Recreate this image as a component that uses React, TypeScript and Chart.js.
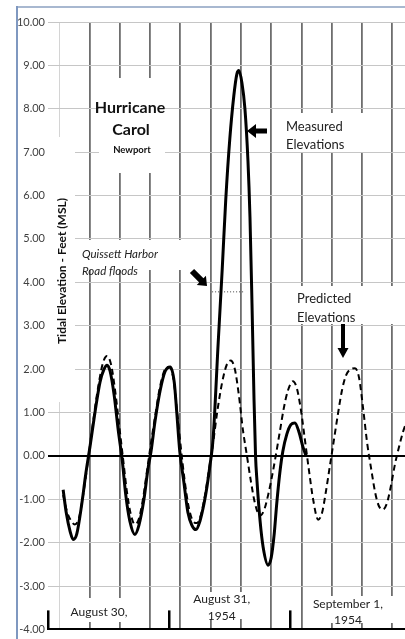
import React, { useEffect, useRef } from "react";
import { Chart, registerables } from "chart.js";

Chart.register(...registerables);

// Time in hours from the start of August 30 (local), elevation in feet (MSL)
const measuredHours = [
  3.0, 3.6, 4.4, 5.0, 5.7, 6.7, 7.5, 8.3, 9.3, 10.3, 11.1, 11.7, 12.3, 13.1, 13.9, 14.7, 15.4, 16.2, 17.2,
  18.0, 19.0, 19.8, 20.4, 21.2, 22.2, 23.2, 24.2, 25.0, 25.5, 26.1, 26.9, 27.7, 28.5, 29.3, 30.1, 30.9,
  31.5, 32.1, 32.7, 33.7, 34.5, 35.2, 36.0, 36.8, 37.4, 37.8, 38.4, 39.0, 39.6, 40.0, 40.4, 40.8, 41.1,
  41.4, 42.0, 42.6, 43.6, 44.2, 44.8, 45.3, 45.9, 46.5, 47.3, 48.1, 48.9, 49.7, 50.5, 51.1,
];
const measuredFeet = [
  -0.78, -1.3, -1.75, -1.93, -1.8, -1.1, -0.4, 0.2, 1.0, 1.7, 2.0, 2.09, 1.95, 1.4, 0.6, -0.1, -0.9, -1.5,
  -1.81, -1.6, -1.0, -0.3, 0.1, 0.8, 1.5, 1.95, 2.05, 1.7, 1.0, 0.1, -0.6, -1.3, -1.6, -1.7, -1.5, -1.1,
  -0.7, -0.2, 0.4, 2.6, 4.3, 5.9, 7.3, 8.3, 8.8, 8.88, 8.6, 8.0, 6.8, 5.5, 3.5, 1.3, 0.0,
  -0.6, -1.5, -2.1, -2.52, -2.35, -1.8, -1.1, -0.4, 0.1, 0.5, 0.72, 0.76, 0.55, 0.2, 0.0,
];

const predictedHours = [
  3.0, 3.8, 4.6, 5.3, 6.1, 6.9, 7.7, 8.5, 9.3, 10.1, 10.9, 11.7, 12.5, 13.3, 14.1, 14.9, 15.6, 16.4, 17.2,
  18.0, 18.8, 19.6, 20.4, 21.2, 22.2, 23.2, 24.0, 24.8, 25.5, 26.3, 27.1, 27.9, 28.7, 29.5, 30.3, 31.1,
  31.9, 32.7, 33.5, 34.5, 35.4, 36.2, 37.0, 37.8, 38.6, 39.4, 40.2, 41.0, 42.0, 42.8, 43.6, 44.4, 45.1,
  45.9, 46.7, 47.5, 48.5, 49.3, 50.1, 50.9, 51.7, 52.5, 53.5, 54.3, 55.0, 55.8, 56.6, 57.4, 58.2, 59.0,
  60.0, 60.8, 61.6, 62.4, 63.2, 64.0, 64.8, 65.5, 66.3, 67.1, 67.9, 68.7, 69.5, 70.3, 70.9,
];
const predictedFeet = [
  -0.9, -1.3, -1.5, -1.58, -1.45, -0.95, -0.3, 0.4, 1.1, 1.7, 2.15, 2.3, 2.1, 1.5, 0.7, -0.1, -0.8, -1.35,
  -1.58, -1.45, -1.0, -0.35, 0.3, 0.9, 1.6, 2.0, 2.05, 1.8, 1.1, 0.2, -0.6, -1.2, -1.5, -1.55, -1.35, -0.9,
  -0.3, 0.3, 1.0, 1.7, 2.1, 2.2, 2.0, 1.4, 0.6, 0.0, -0.6, -1.1, -1.38, -1.25, -0.9, -0.45, 0.0,
  0.55, 1.1, 1.5, 1.72, 1.55, 1.05, 0.35, -0.35, -1.0, -1.47, -1.3, -0.85, -0.25, 0.35, 0.95, 1.5, 1.85,
  2.0, 2.02, 1.8, 1.1, 0.3, -0.3, -0.85, -1.15, -1.24, -1.1, -0.7, -0.2, 0.2, 0.55, 0.75,
];

// "Quissett Harbor Road floods" level
const floodHours = [32.5, 39.0];
const floodFeet = [3.78, 3.78];

// vertical grid every 6 hours, day boundaries and day labels
const gridHours = [2.2, 8.2, 14.2, 20.2, 26.2, 32.2, 38.2, 44.2, 50.2, 56.2, 62.2, 68.2];
const dayStartHours = [0, 24, 48];
const dayLabelHours = [10.1, 34.4, 59.4];
const dayLabels = [["August 30,"], ["August 31,", "1954"], ["September 1,", "1954"]];

const yTicks = [-4, -3, -2, -1, 0, 1, 2, 3, 4, 5, 6, 7, 8, 9, 10];

const FONT = "Lato, 'Open Sans', sans-serif";

function arrow(ctx: CanvasRenderingContext2D, x1: number, y1: number, x2: number, y2: number, shaftW: number, headLen: number, headW: number) {
  const ang = Math.atan2(y2 - y1, x2 - x1);
  const len = Math.hypot(x2 - x1, y2 - y1);
  ctx.save();
  ctx.translate(x1, y1);
  ctx.rotate(ang);
  ctx.fillStyle = "#000";
  ctx.beginPath();
  ctx.moveTo(0, -shaftW / 2);
  ctx.lineTo(len - headLen, -shaftW / 2);
  ctx.lineTo(len - headLen, -headW / 2);
  ctx.lineTo(len, 0);
  ctx.lineTo(len - headLen, headW / 2);
  ctx.lineTo(len - headLen, shaftW / 2);
  ctx.lineTo(0, shaftW / 2);
  ctx.closePath();
  ctx.fill();
  ctx.restore();
}

const boxesPlugin = {
  id: "boxes",
  beforeDatasetsDraw(chart: any) {
    const ctx = chart.ctx as CanvasRenderingContext2D;
    ctx.save();
    ctx.fillStyle = "#fff";
    // text boxes (white fill hides grid lines beneath them)
    ctx.fillRect(48, 137, 27, 265); // axis title
    ctx.fillRect(99, 78, 66, 95); // Hurricane Carol
    ctx.fillRect(282, 113, 90, 39); // Measured
    ctx.fillRect(78, 240, 105, 30); // Quissett
    ctx.fillRect(285, 286, 110, 38); // Predicted
    ctx.fillRect(66, 598, 62, 24); // Aug 30
    ctx.fillRect(190, 592, 64, 27); // Aug 31
    ctx.fillRect(305, 596, 92, 27); // Sep 1
    ctx.restore();
  },
  afterDraw(chart: any) {
    const ctx = chart.ctx as CanvasRenderingContext2D;
    const xs = chart.scales.x;
    const ys = chart.scales.y;
    ctx.save();
    // outer chart frame
    ctx.fillStyle = "#a8b8d0";
    ctx.fillRect(17, 6, 405 - 17, 2);
    ctx.fillStyle = "#7f98c0";
    ctx.fillRect(16, 6, 2, 639);

    // day boundary ticks
    ctx.fillStyle = "#000";
    dayStartHours.forEach((h) => {
      const px = xs.getPixelForValue(h);
      ctx.fillRect(Math.round(px) - 1, ys.bottom - 19, 2.5, 19);
    });

    // day labels
    ctx.fillStyle = "#222";
    ctx.textAlign = "center";
    ctx.textBaseline = "middle";
    ctx.font = `12px ${FONT}`;
    const labelY = [[612], [599, 616], [604, 620]];
    dayLabels.forEach((lines, i) => {
      const px = xs.getPixelForValue(dayLabelHours[i]);
      lines.forEach((t, j) => ctx.fillText(t, px, labelY[i][j]));
    });

    // axis title
    ctx.save();
    ctx.translate(62, 271);
    ctx.rotate(-Math.PI / 2);
    ctx.font = `bold 12px ${FONT}`;
    ctx.fillStyle = "#111";
    ctx.fillText("Tidal Elevation - Feet (MSL)", 0, 0);
    ctx.restore();

    // title
    ctx.fillStyle = "#111";
    ctx.font = `bold 16px ${FONT}`;
    ctx.fillText("Hurricane", 130, 108);
    ctx.fillText("Carol", 131, 130);
    ctx.font = `bold 9.5px ${FONT}`;
    ctx.fillText("Newport", 132, 150);

    // annotations
    ctx.textAlign = "left";
    ctx.font = `13px ${FONT}`;
    ctx.fillStyle = "#222";
    ctx.fillText("Measured", 286, 127);
    ctx.fillText("Elevations", 286, 145);
    ctx.fillText("Predicted", 297, 299);
    ctx.fillText("Elevations", 297, 318);
    ctx.font = `italic 11.5px ${FONT}`;
    ctx.fillText("Quissett Harbor", 82, 254);
    ctx.fillText("Road floods", 82, 271);

    arrow(ctx, 267, 131, 247, 131, 5, 9, 14);
    arrow(ctx, 192, 271, 207, 286, 6, 8, 13);
    arrow(ctx, 343, 324, 343, 358, 4, 10, 11);
    ctx.restore();
  },
};

export default function App() {
  const ref = useRef<HTMLCanvasElement | null>(null);
  useEffect(() => {
    if (!ref.current) return;
    const chart = new Chart(ref.current, {
      type: "line",
      data: {
        datasets: [
          {
            label: "Measured Elevations",
            data: measuredHours.map((h, i) => ({ x: h, y: measuredFeet[i] })),
            borderColor: "#000",
            borderWidth: 3,
            pointRadius: 0,
            cubicInterpolationMode: "monotone",
            fill: false,
          },
          {
            label: "Predicted Elevations",
            data: predictedHours.map((h, i) => ({ x: h, y: predictedFeet[i] })),
            borderColor: "#000",
            borderWidth: 2,
            borderDash: [6, 4],
            pointRadius: 0,
            cubicInterpolationMode: "monotone",
            fill: false,
          },
          {
            label: "Road floods",
            data: floodHours.map((h, i) => ({ x: h, y: floodFeet[i] })),
            borderColor: "#444",
            borderWidth: 1,
            borderDash: [1, 2],
            pointRadius: 0,
            fill: false,
          },
        ],
      },
      options: {
        animation: false,
        responsive: false,
        maintainAspectRatio: false,
        layout: { padding: { top: 22, bottom: 7, left: 0, right: 0 }, autoPadding: false },
        plugins: { legend: { display: false }, tooltip: { enabled: false } },
        scales: {
          x: {
            type: "linear",
            min: 0,
            max: 70.7,
            afterBuildTicks: (s: any) => {
              s.ticks = gridHours.map((v) => ({ value: v }));
            },
            afterFit: (s: any) => {
              s.height = 0;
            },
            ticks: { display: false },
            grid: {
              drawTicks: false,
              color: (c: any) => (c.index === 0 ? "#d4d4d4" : "#6e6e6e"),
              lineWidth: (c: any) => (c.index === 0 ? 1 : 1.8),
            },
            border: { display: true, color: "#000", width: 2 },
          },
          y: {
            min: -4,
            max: 10,
            afterBuildTicks: (s: any) => {
              s.ticks = yTicks.map((v) => ({ value: v }));
            },
            afterFit: (s: any) => {
              s.width = 48;
            },
            ticks: {
              callback: (v: any) => Number(v).toFixed(2),
              color: "#404040",
              font: { family: FONT, size: 11 },
              padding: 3,
            },
            grid: {
              drawTicks: false,
              color: (c: any) => (c.tick && c.tick.value === 0 ? "#000" : "#c6c6c6"),
              lineWidth: (c: any) => (c.tick && c.tick.value === 0 ? 2 : 1),
            },
            border: { display: false },
          },
        },
      },
      plugins: [boxesPlugin],
    } as any);
    return () => chart.destroy();
  }, []);
  return (
    <div style={{ position: "absolute", left: 0, top: 0, width: 405, height: 639, overflow: "hidden", background: "#fff" }}>
      <canvas ref={ref} width={405} height={639} style={{ width: 405, height: 639, display: "block" }} />
    </div>
  );
}
